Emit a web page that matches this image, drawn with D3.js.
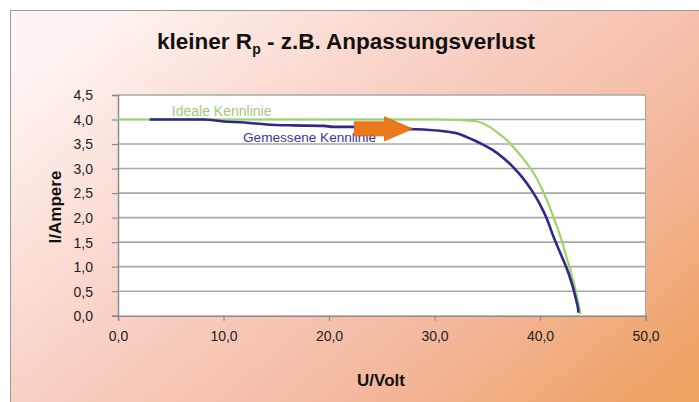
<!DOCTYPE html>
<html>
<head>
<meta charset="utf-8">
<script src="https://cdn.jsdelivr.net/npm/d3@7"></script>
<style>
  html, body { margin: 0; padding: 0; background: #fff; }
  svg { display: block; font-family: "Liberation Sans", Arial, sans-serif; }
</style>
</head>
<body>
<svg id="chart" width="699" height="402"></svg>
<script>
// I-U characteristic of a solar module: ideal curve vs. measured curve (small Rp)
const idealU = [0, 10, 20, 30, 32.5, 33.8, 34.6, 35.3, 36.0, 36.8, 37.6, 38.7, 39.5, 40.2, 41.0, 41.6, 42.0, 42.5, 43.0, 43.4, 43.85];
const idealI = [4.0, 4.0, 4.0, 4.0, 3.99, 3.97, 3.92, 3.84, 3.73, 3.59, 3.41, 3.12, 2.87, 2.58, 2.17, 1.82, 1.57, 1.2, 0.84, 0.5, 0.03];

const measU = [3.0, 8.1, 10.0, 12.0, 14.1, 16.6, 19.5, 20.4, 22.3, 27.4, 30.5, 32.1, 33.7, 34.5, 35.5, 36.5, 37.5, 38.4, 39.2, 40.0, 40.6, 41.3, 42.0, 42.7, 43.2, 43.45, 43.6, 43.65];
const measI = [4.0, 4.0, 3.96, 3.94, 3.9, 3.88, 3.87, 3.85, 3.85, 3.81, 3.77, 3.72, 3.58, 3.5, 3.38, 3.22, 3.02, 2.8, 2.56, 2.27, 2.0, 1.6, 1.24, 0.87, 0.52, 0.3, 0.15, 0.06];

const xTicks = [0, 10, 20, 30, 40, 50];
const yTicks = [0, 0.5, 1, 1.5, 2, 2.5, 3, 3.5, 4, 4.5];

const titleMain = "kleiner R";
const titleSub = "p";
const titleRest = " - z.B. Anpassungsverlust";
const xLabel = "U/Volt";
const yLabel = "I/Ampere";
const idealName = "Ideale Kennlinie";
const measName = "Gemessene Kennlinie";

// Arrow annotation (data units): shifted working point
const arrowFromU = 22.4, arrowToU = 27.9, arrowI = 3.81;

const W = 699, H = 402;
const svg = d3.select("#chart");
const fmt = v => d3.format(".1f")(v).replace(".", ",");

// Background with diagonal pink-to-orange gradient
const defs = svg.append("defs");
const grad = defs.append("linearGradient").attr("id", "bg")
  .attr("x1", "0").attr("y1", "0.15").attr("x2", "1").attr("y2", "0.85");
grad.append("stop").attr("offset", "0").attr("stop-color", "#fef6f4");
grad.append("stop").attr("offset", "0.35").attr("stop-color", "#f9d4ca");
grad.append("stop").attr("offset", "0.7").attr("stop-color", "#f4b9a0");
grad.append("stop").attr("offset", "1").attr("stop-color", "#eea264");

svg.append("rect").attr("x", 0).attr("y", 0).attr("width", W).attr("height", H).attr("fill", "#fff");
svg.append("rect").attr("x", 10.5).attr("y", 10.5).attr("width", W).attr("height", H)
  .attr("fill", "url(#bg)").attr("stroke", "#9a9a9a").attr("stroke-width", 1);

const m = { left: 118, right: 645.5, top: 95, bottom: 315.7 };
const x = d3.scaleLinear().domain([0, 50]).range([m.left, m.right]);
const y = d3.scaleLinear().domain([0, 4.5]).range([m.bottom, m.top]);

// Plot area
svg.append("rect").attr("x", m.left).attr("y", m.top)
  .attr("width", m.right - m.left).attr("height", m.bottom - m.top)
  .attr("fill", "#fff");

// Horizontal grid lines
svg.append("g").selectAll("line").data(yTicks.slice(1)).join("line")
  .attr("x1", m.left).attr("x2", m.right)
  .attr("y1", d => y(d)).attr("y2", d => y(d))
  .attr("stroke", "#a8a8a8").attr("stroke-width", 1.6);

// Right border of plot area
svg.append("line").attr("x1", m.right).attr("x2", m.right)
  .attr("y1", m.top).attr("y2", m.bottom)
  .attr("stroke", "#a8a8a8").attr("stroke-width", 1.2);

// Axes
const xAxis = d3.axisBottom(x).tickValues(xTicks).tickFormat(fmt).tickSize(5).tickPadding(10);
const yAxis = d3.axisLeft(y).tickValues(yTicks).tickFormat(fmt).tickSize(6).tickPadding(19);

const gx = svg.append("g").attr("transform", `translate(0,${m.bottom})`).call(xAxis);
const gy = svg.append("g").attr("transform", `translate(${m.left},0)`).call(yAxis);
[gx, gy].forEach(g => {
  g.select(".domain").attr("stroke", "#8c8c8c").attr("stroke-width", 1.5);
  g.selectAll(".tick line").attr("stroke", "#8c8c8c").attr("stroke-width", 1.2);
  g.selectAll(".tick text").attr("fill", "#222").attr("font-size", 14)
    .attr("font-family", "'Liberation Sans', Arial, sans-serif");
});
gy.selectAll(".tick text").attr("dy", "0.35em");

// Curves
const line = d3.line().x(d => x(d[0])).y(d => y(d[1])).curve(d3.curveMonotoneX);

svg.append("path").datum(d3.zip(idealU, idealI))
  .attr("d", line).attr("fill", "none")
  .attr("stroke", "#9fd46a").attr("stroke-width", 2.2).attr("stroke-linejoin", "round");

svg.append("path").datum(d3.zip(measU, measI))
  .attr("d", line).attr("fill", "none")
  .attr("stroke", "#2e2888").attr("stroke-width", 2.6).attr("stroke-linejoin", "round");

// Series labels
svg.append("text").attr("x", x(5.1)).attr("y", y(4.07))
  .attr("fill", "#a3c97a").attr("font-size", 14).text(idealName);
svg.append("text").attr("x", x(11.85)).attr("y", y(3.55))
  .attr("fill", "#3d3797").attr("font-size", 13.6).text(measName);

// Block arrow
const ax0 = x(arrowFromU), ax1 = x(arrowToU), ay = y(arrowI);
const headStart = ax0 + (ax1 - ax0) * 0.52;
const bodyH = 7, headH = 12;
const arrowPts = [
  [ax0, ay - bodyH], [headStart, ay - bodyH], [headStart, ay - headH],
  [ax1, ay], [headStart, ay + headH], [headStart, ay + bodyH], [ax0, ay + bodyH]
];
svg.append("path").attr("d", "M" + arrowPts.join("L") + "Z")
  .attr("fill", "#ec7a1c").attr("stroke", "#d0651a").attr("stroke-width", 0.8);

// Title
const title = svg.append("text").attr("x", 346).attr("y", 49)
  .attr("text-anchor", "middle").attr("font-size", 22.5).attr("font-weight", "bold").attr("fill", "#111");
title.append("tspan").text(titleMain);
title.append("tspan").attr("font-size", 14).attr("dy", 5).text(titleSub);
title.append("tspan").attr("dy", -5).text(titleRest);

// Axis titles
svg.append("text").attr("x", 381).attr("y", 386).attr("text-anchor", "middle")
  .attr("font-size", 17).attr("font-weight", "bold").attr("fill", "#111").text(xLabel);
svg.append("text").attr("transform", "translate(61,207) rotate(-90)").attr("text-anchor", "middle")
  .attr("font-size", 17).attr("font-weight", "bold").attr("fill", "#111").text(yLabel);
</script>
</body>
</html>
